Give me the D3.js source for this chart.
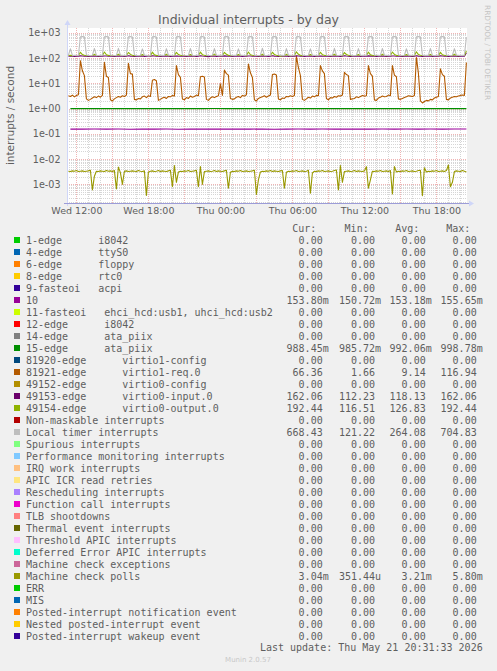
<!DOCTYPE html>
<html><head><meta charset="utf-8">
<script src="https://cdn.jsdelivr.net/npm/d3@7"></script>
<style>
body{margin:0;background:#f0f0f0}
svg{display:block}
</style></head>
<body><svg id="c" width="497" height="671"></svg>
<script>
// ---------------- DATA ----------------
const legendNames = [
 "1-edge      i8042","4-edge      ttyS0","6-edge      floppy","8-edge      rtc0",
 "9-fasteoi   acpi","10","11-fasteoi   ehci_hcd:usb1, uhci_hcd:usb2","12-edge      i8042",
 "14-edge      ata_piix","15-edge      ata_piix","81920-edge      virtio1-config",
 "81921-edge      virtio1-req.0","49152-edge      virtio0-config","49153-edge      virtio0-input.0",
 "49154-edge      virtio0-output.0","Non-maskable interrupts","Local timer interrupts",
 "Spurious interrupts","Performance monitoring interrupts","IRQ work interrupts",
 "APIC ICR read retries","Rescheduling interrupts","Function call interrupts",
 "TLB shootdowns","Thermal event interrupts","Threshold APIC interrupts",
 "Deferred Error APIC interrupts","Machine check exceptions","Machine check polls",
 "ERR","MIS","Posted-interrupt notification event","Nested posted-interrupt event",
 "Posted-interrupt wakeup event"];
const legendColors = ["#00CC00","#0066B3","#FF8000","#FFCC00","#330099","#990099","#CCFF00","#FF0000",
 "#808080","#008F00","#00487D","#B35A00","#B38F00","#6B006B","#8FB300","#B30000","#BEBEBE",
 "#80FF80","#80C9FF","#FFC080","#FFE680","#AA80FF","#EE00CC","#FF8080","#666600","#FFBFFF",
 "#00FFCC","#CC6699","#999900","#00CC00","#0066B3","#FF8000","#FFCC00","#330099"];
const curVals = [0,0,0,0,0,0.15380,0,0,0,0.98845,0,66.36,0,162.06,192.44,0,668.43,0,0,0,0,0,0,0,0,0,0,0,0.00304,0,0,0,0,0];
const minVals = [0,0,0,0,0,0.15072,0,0,0,0.98572,0,1.66,0,112.23,116.51,0,121.22,0,0,0,0,0,0,0,0,0,0,0,0.00035144,0,0,0,0,0];
const avgVals = [0,0,0,0,0,0.15318,0,0,0,0.99206,0,9.14,0,118.13,126.83,0,264.08,0,0,0,0,0,0,0,0,0,0,0,0.00321,0,0,0,0,0];
const maxVals = [0,0,0,0,0,0.15565,0,0,0,0.99878,0,116.94,0,162.06,192.44,0,704.83,0,0,0,0,0,0,0,0,0,0,0,0.00580,0,0,0,0,0];

const yTickValues = [1e-3,1e-2,1e-1,1e0,1e1,1e2,1e3];
const yTickLabels = ["1e-03","1e-02","1e-01","1e+00","1e+01","1e+02","1e+03"];
const xTickLabels = ["Wed 12:00","Wed 18:00","Thu 00:00","Thu 06:00","Thu 12:00","Thu 18:00"];

// hourly series (11:30 Wed .. 20:30 Thu)
const irq10 = [0.1532,0.1528,0.1540,0.1525,0.1536,0.1521,0.1545,0.1530,0.1538,0.1519,0.1542,0.1527,0.1535,0.1550,0.1524,0.1533,0.1539,0.1507,0.1531,0.1544,0.1526,0.1537,0.1529,0.1556,0.1522,0.1534,0.1541,0.1528,0.1536,0.1523,0.1539,0.1530,0.1543,0.1538];
const irq15 = [0.9915,0.9928,0.9902,0.9936,0.9910,0.9925,0.9898,0.9940,0.9918,0.9905,0.9932,0.9912,0.9988,0.9921,0.9907,0.9930,0.9916,0.9857,0.9924,0.9911,0.9935,0.9903,0.9927,0.9919,0.9908,0.9931,0.9914,0.9926,0.9900,0.9922,0.9917,0.9929,0.9906,0.98845];

// 10-minute series (11:20 Wed .. 20:30 Thu)
const irq81921 = [3.2,3.0,3.4,2.9,3.3,3.5,
 78,31,20,2.4,2.1,2.3,2.6,2.9,2.7,3.1,2.8,3.3,
 67,19,17,2.2,2.0,2.4,2.7,3.0,2.8,3.2,3.0,3.4,
 61,24,23,2.3,2.2,2.5,2.4,2.9,3.1,2.7,3.2,3.0,
 13,14,12.5,2.1,2.3,2.6,2.8,2.5,3.0,2.9,3.3,3.1,
 50,22,17,2.4,2.2,2.7,2.5,3.1,2.8,3.0,3.4,3.2,
 18,19,17.5,2.3,2.1,2.6,2.9,2.7,3.0,3.2,9.5,3.3,
 33,24,21,2.5,2.3,2.4,2.8,3.0,2.7,3.3,3.1,3.5,
 58,26,17,2.2,2.0,2.5,2.7,2.9,3.2,2.8,3.1,3.4,
 22,23,21,2.4,2.2,2.6,2.5,3.0,2.9,3.2,3.0,3.3,
 116.94,42,20,2.3,2.1,2.4,2.8,2.6,3.1,2.9,3.3,3.2,
 50,31,24,2.5,2.2,2.7,2.6,3.0,2.8,3.2,3.1,3.4,
 27,22,20,2.3,2.4,2.5,2.9,2.7,3.0,3.3,3.1,3.2,
 50,24,19,2.2,2.1,2.6,2.8,3.1,2.9,3.0,3.4,3.2,
 50,21,18,2.4,2.3,2.5,2.7,2.9,3.2,3.1,3.0,3.3,
 105,25,2.0,1.66,1.9,2.1,2.0,2.3,2.2,2.6,2.8,3.0,
 37,22,19,2.3,2.2,2.6,2.8,3.0,2.9,3.1,3.3,3.4,
 3.3,66.36];
const irq49153 = [117,118,117,116,117,118,
 121,119,118,117,116,117,118,119,117,116,117,118,
 120,119,117,118,117,116,117,120,118,117,116,117,
 122,118,117,116,117,118,117,119,116,117,118,117,
 121,119,118,117,116,117,118,120,117,116,117,118,
 120,118,117,118,117,116,117,119,118,117,116,117,
 122,119,117,116,112.23,118,117,120,116,117,118,117,
 121,118,118,117,116,117,118,119,117,116,117,118,
 120,119,117,118,117,116,117,120,118,117,116,117,
 122,118,117,116,117,118,117,119,116,117,118,117,
 121,119,118,117,116,117,118,120,117,116,117,118,
 120,118,117,118,117,116,117,119,118,117,116,117,
 122,119,117,116,117,118,117,120,116,117,118,117,
 121,118,118,117,116,117,118,119,117,116,117,118,
 120,119,117,118,117,116,117,120,118,117,116,117,
 122,118,117,116,117,118,117,119,116,117,118,117,
 121,119,118,117,116,117,118,120,117,116,117,118,
 118,162.06];
const irq49154 = [125,127,124,126,125,126,
 168,136,128,125,124,126,125,139,126,124,125,126,
 172,134,127,126,125,124,126,141,125,126,124,125,
 165,138,129,124,126,125,124,136,126,125,126,124,
 170,133,127,125,124,126,125,140,124,126,125,126,
 167,137,128,126,125,124,126,138,125,124,126,125,
 171,135,129,124,126,125,124,142,126,125,124,126,
 166,139,127,125,124,126,125,137,125,126,125,124,
 173,134,128,126,125,124,126,140,124,125,126,125,
 169,136,129,125,116.51,125,124,139,126,124,125,126,
 175,140,128,124,126,125,126,136,125,126,124,125,
 168,135,127,126,125,124,125,141,126,125,126,124,
 164,137,129,125,124,126,126,138,124,126,125,126,
 170,133,128,124,126,125,124,140,125,124,126,125,
 172,138,127,126,125,124,126,137,126,125,124,126,
 176,136,129,125,124,126,125,139,124,126,125,124,
 167,134,128,124,126,125,124,141,125,124,126,125,
 126,192.44];
const localTimer = [127,231,126,128,127,126,
 688,701,683,131,127,126,128,238,127,126,128,127,
 694,704.83,686,130,128,126,127,241,128,127,126,127,
 689,698,680,132,127,126,128,228,127,128,121.22,127,
 692,700,679,130,127,128,126,233,128,127,126,128,
 687,699,685,131,128,126,127,239,127,126,128,127,
 690,703,681,130,127,126,128,236,126,127,128,127,
 693,701,682,131,126,128,127,230,128,127,126,128,
 688,700,684,130,127,126,128,242,127,126,128,127,
 691,702,683,131,128,127,126,235,128,127,126,128,
 689,699,680,130,127,126,128,229,127,128,126,127,
 692,703,686,129,126,128,127,240,128,126,127,128,
 690,700,681,132,127,126,128,234,126,127,128,127,
 687,701,684,130,128,127,126,237,127,128,126,127,
 693,702,682,131,127,126,128,231,128,127,126,128,
 688,699,685,130,126,128,127,239,127,126,128,127,
 691,700,683,129,127,126,128,233,128,127,126,127,
 128,668.43];
const mcPolls = [
 .0033,.0032,.0034,.0033,.0035,.0032,.0033,.0034,.0032,.0033,
 .0034,.0036,.00060,.0021,.0033,.0032,.0034,.0033,.0032,.0035,
 .0033,.0034,.0032,.0035,.00065,.0048,.0029,.0010,.0033,.0034,
 .0032,.0033,.0034,.0033,.0032,.0035,.0033,.0032,.0034,.00036,
 .0031,.0033,.0034,.0032,.0033,.0035,.0032,.0034,.0033,.0032,
 .0034,.0036,.00080,.0055,.0012,.0031,.0033,.0032,.0034,.0033,
 .0035,.0032,.0033,.0034,.0036,.00080,.0050,.0010,.0032,.0033,
 .0034,.0032,.0033,.0035,.0032,.0034,.0033,.0032,.0034,.0036,
 .00070,.0030,.0033,.0032,.0034,.0033,.0035,.0032,.0033,.0034,
 .0032,.0033,.0034,.0036,.00040,.0015,.0031,.0033,.0032,.0034,
 .0033,.0035,.0032,.0034,.0033,.0032,.0034,.0035,.00070,.0030,
 .0033,.0032,.0034,.0033,.0035,.0032,.0033,.0034,.0032,.0033,
 .0036,.00045,.0028,.0033,.0032,.0034,.0033,.0035,.0032,.0033,
 .0034,.0032,.0033,.0035,.0037,.00060,.0055,.0012,.0032,.0033,
 .0034,.0032,.0033,.0035,.0032,.0034,.0033,.0032,.0034,.0050,
 .00070,.0015,.0033,.0032,.0034,.0033,.0035,.0032,.0033,.0034,
 .0032,.0035,.00042,.0050,.0031,.0033,.0032,.0034,.0033,.0035,
 .0032,.0033,.0034,.0032,.0033,.0035,.0036,.00035144,.0045,.0031,
 .0033,.0032,.0034,.0033,.0035,.0032,.0033,.0034,.0032,.0035,
 .0058,.00080,.0012,.0032,.0034,.0033,.0032,.0035,.0033,.00304];

// ---------------- SETUP ----------------
const svg = d3.select("#c");
const P = {left:67,right:467,top:28,bottom:203};
const tStart = new Date(Date.UTC(2026,4,20,11,13));
const tEnd   = new Date(Date.UTC(2026,4,21,20,33));
const x = d3.scaleUtc().domain([tStart,tEnd]).range([P.left,P.right]);
const y = d3.scaleLog().domain([Math.pow(10,-3.739),Math.pow(10,3.186)]).range([P.bottom,P.top]);
const FONT = "#5e5e5e";

const t10 = i => new Date(Date.UTC(2026,4,20,11,20) + i*600000);
const t60 = i => new Date(Date.UTC(2026,4,20,11,30) + i*3600000);

svg.append("rect").attr("width",497).attr("height",671).attr("fill","#f0f0f0");
svg.append("rect").attr("x",P.left).attr("y",P.top).attr("width",P.right-P.left).attr("height",P.bottom-P.top).attr("fill","#ffffff");

// grid
const g = svg.append("g").attr("shape-rendering","crispEdges");
const minorY=[], majorY=[];
for(let d=-4; d<=3; d++){
  for(let m=1;m<=9;m++){
    const v=m*Math.pow(10,d);
    if(v<y.domain()[0]||v>y.domain()[1]) continue;
    (m===1?majorY:minorY).push(v);
  }
}
const MINOR = "#d6d6d6", MAJOR = "#f0b4b4";
g.selectAll(".mny").data(minorY).join("line")
 .attr("x1",P.left).attr("x2",P.right)
 .attr("y1",d=>Math.round(y(d))+0.5).attr("y2",d=>Math.round(y(d))+0.5)
 .attr("stroke",MINOR).attr("stroke-dasharray","1,1");
const hours = d3.utcHour.every(1).range(tStart,tEnd);
g.selectAll(".mnx").data(hours.filter(h=>h.getUTCHours()%3!==0)).join("line")
 .attr("y1",P.top).attr("y2",P.bottom)
 .attr("x1",d=>Math.round(x(d))+0.5).attr("x2",d=>Math.round(x(d))+0.5)
 .attr("stroke",MINOR).attr("stroke-dasharray","1,1");
g.selectAll(".mjy").data(majorY).join("line")
 .attr("x1",P.left).attr("x2",P.right)
 .attr("y1",d=>Math.round(y(d))+0.5).attr("y2",d=>Math.round(y(d))+0.5)
 .attr("stroke",MAJOR).attr("stroke-dasharray","1,1");
g.selectAll(".mjx").data(hours.filter(h=>h.getUTCHours()%3===0)).join("line")
 .attr("y1",P.top).attr("y2",P.bottom)
 .attr("x1",d=>Math.round(x(d))+0.5).attr("x2",d=>Math.round(x(d))+0.5)
 .attr("stroke",MAJOR).attr("stroke-dasharray","1,1");

// series
const line = d3.line().x(d=>x(d.t)).y(d=>y(d.v));
const series = [
  {vals:irq10, t:t60, color:legendColors[5]},
  {vals:irq15, t:t60, color:legendColors[9]},
  {vals:irq81921, t:t10, color:legendColors[11]},
  {vals:irq49153, t:t10, color:legendColors[13]},
  {vals:irq49154, t:t10, color:legendColors[14]},
  {vals:localTimer, t:t10, color:legendColors[16]},
  {vals:mcPolls, t:t10, color:legendColors[28]}
];
const sg = svg.append("g");
series.forEach(s=>{
  sg.append("path").datum(s.vals.map((v,i)=>({t:s.t(i),v})))
    .attr("d",line).attr("fill","none").attr("stroke",s.color).attr("stroke-width",1.1)
    .attr("stroke-linejoin","round");
});

// axes lines & arrows
svg.append("line").attr("x1",P.left+0.5).attr("x2",P.left+0.5).attr("y1",P.bottom+3).attr("y2",P.top-4)
  .attr("stroke","#CFD6F8").attr("shape-rendering","crispEdges");
svg.append("path").attr("d",`M${P.left-2.5},${P.top-3} L${P.left+3.5},${P.top-3} L${P.left+0.5},${P.top-8} Z`).attr("fill","#CFD6F8");
svg.append("line").attr("x1",P.left-3).attr("x2",P.right+4).attr("y1",P.bottom+0.5).attr("y2",P.bottom+0.5)
  .attr("stroke","#9c9cd8").attr("shape-rendering","crispEdges");
svg.append("path").attr("d",`M${P.right+2},${P.bottom-2.5} L${P.right+2},${P.bottom+3.5} L${P.right+7},${P.bottom+0.5} Z`).attr("fill","#CFD6F8");

// y axis labels
const yAxis = d3.axisLeft(y).tickValues(yTickValues).tickFormat((d,i)=>yTickLabels[i]).tickSize(0).tickPadding(6.5);
const ya = svg.append("g").attr("transform",`translate(${P.left},0)`).call(yAxis);
ya.select(".domain").remove();
ya.selectAll("text").attr("font-family","DejaVu Sans").attr("font-size","9.6px").attr("fill",FONT);

// x axis labels
const xTickTimes = d3.utcHour.every(6).range(tStart,tEnd).filter(d=>d>=new Date(Date.UTC(2026,4,20,12)));
const xAxis = d3.axisBottom(x).tickValues(xTickTimes).tickFormat((d,i)=>xTickLabels[i]).tickSize(0).tickPadding(4.3);
const xa = svg.append("g").attr("transform",`translate(0,${P.bottom})`).call(xAxis);
xa.select(".domain").remove();
xa.selectAll("text").attr("font-family","DejaVu Sans").attr("font-size","9.5px").attr("fill",FONT);

// title etc.
svg.append("text").attr("x",248.5).attr("y",24).attr("text-anchor","middle")
  .attr("font-family","DejaVu Sans").attr("font-size","12.5px").attr("fill",FONT)
  .text("Individual interrupts - by day");
svg.append("text").attr("transform",`translate(13.5,${(P.top+P.bottom)/2}) rotate(-90)`)
  .attr("text-anchor","middle").attr("font-family","DejaVu Sans").attr("font-size","10.5px").attr("fill",FONT)
  .text("interrupts / second");
svg.append("text").attr("transform","translate(485.3,5) rotate(90)")
  .attr("font-family","DejaVu Sans").attr("font-size","7.4px").attr("fill","#c4c4c4")
  .text("RRDTOOL / TOBI OETIKER");

// legend
const mono = "DejaVu Sans Mono";
const colX = [322.7,375,425.7,476.7];
const headers = ["Cur:","Min:","Avg:","Max:"];
headers.forEach((h,i)=>{
  svg.append("text").attr("x",colX[i]-6.3).attr("y",232).attr("text-anchor","end")
   .attr("font-family",mono).attr("font-size","10px").attr("fill",FONT).text(h);
});
function rrdFmt(v){
  if(v===0) return ["0.00",""];
  let e = Math.floor(Math.log10(Math.abs(v))/3)*3;
  const pre = {"-9":"n","-6":"u","-3":"m","0":"","3":"k"}[String(e)];
  return [(v/Math.pow(10,e)).toFixed(2), pre];
}
const lg = svg.append("g");
legendNames.forEach((name,i)=>{
  const by = 243.5 + 12*i;
  lg.append("rect").attr("x",14).attr("y",by-6.5).attr("width",6.3).attr("height",6.3)
    .attr("fill",legendColors[i]).attr("shape-rendering","crispEdges");
  lg.append("text").attr("x",26).attr("y",by).attr("xml:space","preserve").style("white-space","pre")
    .attr("font-family",mono).attr("font-size","10px").attr("fill",FONT).text(name);
  [curVals[i],minVals[i],avgVals[i],maxVals[i]].forEach((v,j)=>{
    const [num,suf] = rrdFmt(v);
    lg.append("text").attr("x",colX[j]).attr("y",by).attr("text-anchor","end")
      .attr("font-family",mono).attr("font-size","10px").attr("fill",FONT).text(num);
    if(suf) lg.append("text").attr("x",colX[j]).attr("y",by)
      .attr("font-family",mono).attr("font-size","10px").attr("fill",FONT).text(suf);
  });
});
svg.append("text").attr("x",482.7).attr("y",651).attr("text-anchor","end")
  .attr("font-family",mono).attr("font-size","10px").attr("fill",FONT)
  .text("Last update: Thu May 21 20:31:33 2026");
svg.append("text").attr("x",248).attr("y",662).attr("text-anchor","middle")
  .attr("font-family","DejaVu Sans").attr("font-size","7px").attr("fill","#c8c8c8")
  .text("Munin 2.0.57");
</script>
</body></html>
